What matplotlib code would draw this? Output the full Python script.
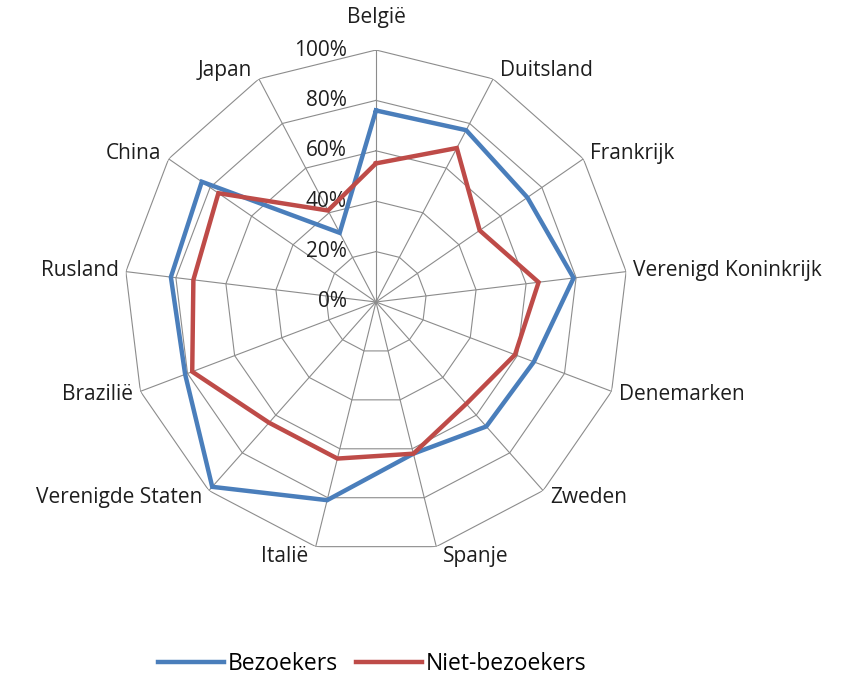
import numpy as np
import matplotlib as mpl
mpl.use('Agg')
import matplotlib.pyplot as plt
from matplotlib.lines import Line2D

plt.rcParams['font.family'] = ['Open Sans', 'DejaVu Sans']

landen = ["België", "Duitsland", "Frankrijk", "Verenigd Koninkrijk", "Denemarken",
          "Zweden", "Spanje", "Italië", "Verenigde Staten", "Brazilië",
          "Rusland", "China", "Japan"]
bezoekers = [76, 77, 73, 79, 67, 66, 62, 81, 98, 81, 82, 84, 31]
niet_bezoekers = [55, 69, 50, 65, 59, 54, 62, 64, 64, 78, 73, 76, 41]
ringen = [0, 20, 40, 60, 80, 100]

blauw = "#4a7ebb"
rood = "#be4b48"
grijs = "#8c8c8c"
tekst = "#1e1e1e"
fs = 15

n = len(landen)
hoeken = np.arange(n) * 2 * np.pi / n
gesloten = np.append(hoeken, hoeken[0])

fig = plt.figure(figsize=(8.5, 6.81), dpi=100)
ax = fig.add_axes([0.1459, 0.1865, 0.5929, 0.7401], projection='polar')
ax.set_theta_offset(np.pi / 2)
ax.set_theta_direction(-1)
ax.set_ylim(0, 100)
ax.grid(False)
ax.spines['polar'].set_visible(False)
ax.set_xticks([])
ax.set_yticks([])
ax.patch.set_alpha(0)

# veelhoekige rasterlijnen en spaken
for r in ringen[1:]:
    ax.plot(gesloten, [r] * (n + 1), color=grijs, lw=0.8, zorder=1)
for h in hoeken:
    ax.plot([h, h], [0, 100], color=grijs, lw=0.8, zorder=1)

# percentages langs de verticale as
for r in ringen:
    ax.annotate(f"{r}%", xy=(0, r), xytext=(-21, 0), textcoords='offset points',
                ha='right', va='center', fontsize=fs, color=tekst)

ax.plot(gesloten, bezoekers + bezoekers[:1], color=blauw, lw=3.2, zorder=3,
        solid_joinstyle='miter')
ax.plot(gesloten, niet_bezoekers + niet_bezoekers[:1], color=rood, lw=3.2, zorder=3,
        solid_joinstyle='miter')

# landnamen buiten de veelhoek
for h, naam in zip(hoeken, landen):
    s, c = np.sin(h), np.cos(h)
    if abs(s) < 0.1:
        ax.annotate(naam, xy=(h, 100), xytext=(0, 16 * np.sign(c)),
                    textcoords='offset points', ha='center',
                    va='bottom' if c > 0 else 'top', fontsize=fs, color=tekst)
        continue
    ha = 'left' if s > 0 else 'right'
    ax.annotate(naam, xy=(h, 100), xytext=(5 * np.sign(s), 7 * c),
                textcoords='offset points', ha=ha, va='center',
                fontsize=fs, color=tekst)

handles = [Line2D([], [], color=blauw, lw=3.2), Line2D([], [], color=rood, lw=3.2)]
fig.legend(handles, ["Bezoekers", "Niet-bezoekers"], loc='center',
           bbox_to_anchor=(372 / 850, 1 - 664 / 681), ncol=2, frameon=False,
           fontsize=16.5, handlelength=2.9, handletextpad=0.15, columnspacing=0.8)

fig.savefig("out.png", dpi=100)
